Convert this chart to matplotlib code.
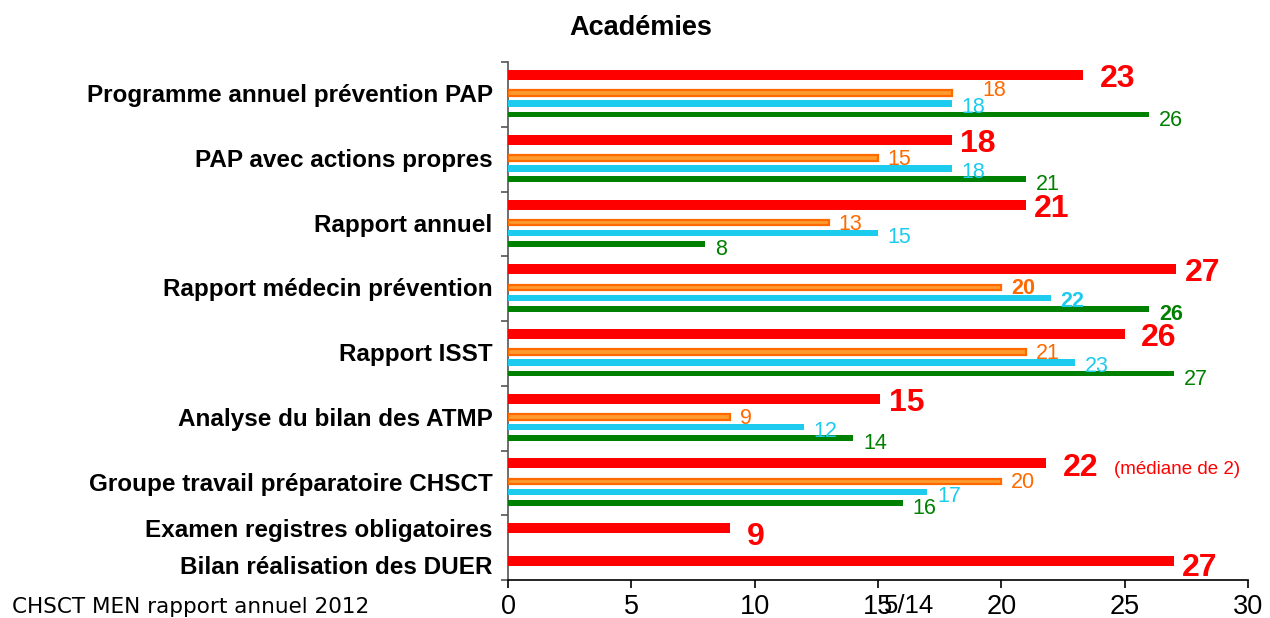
import matplotlib
matplotlib.use("Agg")
import matplotlib.pyplot as plt
import matplotlib.transforms as mtransforms

# ---------------- data ----------------
categories = [
    "Programme annuel prévention PAP",
    "PAP avec actions propres",
    "Rapport annuel",
    "Rapport médecin prévention",
    "Rapport ISST",
    "Analyse du bilan des ATMP",
    "Groupe travail préparatoire CHSCT",
    "Examen registres obligatoires",
    "Bilan réalisation des DUER",
]
red_values = [23.3, 18, 21, 27.1, 25, 15.1, 21.8, 9, 27]
red_labels = ["23", "18", "21", "27", "26", "15", "22", "9", "27"]
orange_values = [18, 15, 13, 20, 21, 9, 20]
cyan_values = [18, 18, 15, 22, 23, 12, 17]
green_values = [26, 21, 8, 26, 27, 14, 16]
bold_group = "Rapport médecin prévention"
x_ticks = [0, 5, 10, 15, 20, 25, 30]

title = "Académies"
footer = "CHSCT MEN rapport annuel 2012"
page = "5/14"
note = "(médiane de 2)"

# ---------------- style ----------------
RED = "#FF0000"
ORANGE_FACE = "#FF9A2E"
ORANGE_EDGE = "#FF6A00"
ORANGE_TXT = "#FF6A00"
CYAN = "#1CCBEE"
GREEN = "#008000"
FONT = "Liberation Sans"

fig = plt.figure(figsize=(12.70, 6.18), dpi=100)
ax = fig.add_axes([0.4, 0.0615, 0.5827, 0.838])

# layout: full groups occupy one unit each; last two categories share one unit
n_full = len(orange_values)
red_pos = [i + 0.20 for i in range(n_full)] + [n_full + 0.20, n_full + 0.70]
label_pos = [i + 0.52 for i in range(n_full)] + [n_full + 0.24, n_full + 0.80]
orange_pos = [i + 0.48 for i in range(n_full)]
cyan_pos = [i + 0.64 for i in range(n_full)]
green_pos = [i + 0.81 for i in range(n_full)]

ax.barh(red_pos, red_values, height=0.155, color=RED, zorder=3)
ax.barh(orange_pos, orange_values, height=0.085, color=ORANGE_FACE,
        edgecolor=ORANGE_EDGE, linewidth=1.6, zorder=3)
ax.barh(cyan_pos, cyan_values, height=0.10, color=CYAN, zorder=3)
ax.barh(green_pos, green_values, height=0.09, color=GREEN, zorder=3)

ax.set_xlim(0, 30)
ax.set_ylim(len(categories) - 1, 0)

# red value labels
for i, (v, lab, y) in enumerate(zip(red_values, red_labels, red_pos)):
    dx, dy = 6, -3
    if categories[i] in ("Programme annuel prévention PAP", "Rapport ISST",
                         "Groupe travail préparatoire CHSCT",
                         "Examen registres obligatoires"):
        dx = 12
    if categories[i] == "Examen registres obligatoires":
        dy = -6
    if categories[i] == "Bilan réalisation des DUER":
        dy = -5
    ax.annotate(lab, xy=(v, y), xytext=(dx, dy), textcoords="offset points",
                ha="left", va="center", color=RED, fontsize=23,
                fontweight="bold", family=FONT, zorder=4)
    if categories[i] == "Groupe travail préparatoire CHSCT":
        ax.annotate(note, xy=(v, y), xytext=(49, -4), textcoords="offset points",
                    ha="left", va="center", color=RED, fontsize=13.5,
                    family=FONT, zorder=4)

# small series labels
def small_labels(values, positions, color, dy_default, special=None):
    for i, (v, y) in enumerate(zip(values, positions)):
        weight = "bold" if categories[i] == bold_group else "normal"
        dx, dy = 7, dy_default
        if special and categories[i] in special:
            dx, dy = special[categories[i]]
        ax.annotate(str(v), xy=(v, y), xytext=(dx, dy),
                    textcoords="offset points", ha="left", va="center",
                    color=color, fontsize=15.5, fontweight=weight,
                    family=FONT, zorder=4)

small_labels(orange_values, orange_pos, ORANGE_TXT, -1,
             special={"Programme annuel prévention PAP": (22, 2)})
small_labels(cyan_values, cyan_pos, CYAN, -3)
small_labels(green_values, green_pos, GREEN, -4)

# category labels
blend = mtransforms.blended_transform_factory(ax.transAxes, ax.transData)
for cat, y in zip(categories, label_pos):
    ax.annotate(cat, xy=(0, y), xycoords=blend, xytext=(-11, 0),
                textcoords="offset points", ha="right", va="center",
                fontsize=17.5, fontweight="bold", family=FONT, color="black")

# axes styling
for s in ("top", "right"):
    ax.spines[s].set_visible(False)
ax.spines["left"].set_color("#555555")
ax.spines["left"].set_linewidth(1.2)
ax.spines["bottom"].set_color("black")
ax.spines["bottom"].set_linewidth(1.2)
ax.set_yticks(range(len(categories)))
ax.set_yticklabels([])
ax.tick_params(axis="y", direction="out", length=5, width=1.2, color="#555555")
ax.set_xticks(x_ticks)
ax.set_xticklabels([str(t) for t in x_ticks], fontsize=19.5, family=FONT)
ax.tick_params(axis="x", direction="out", length=6, width=1.2, pad=4)

fig.text(641 / 1270, 1 - 28 / 618, title, ha="center", va="center",
         fontsize=19.5, fontweight="bold", family=FONT)
fig.text(12 / 1270, 1 - 607 / 618, footer, ha="left", va="center",
         fontsize=15.5, family="DejaVu Sans")
fig.text(884 / 1270, 1 - 606 / 618, page, ha="left", va="center",
         fontsize=18.5, family=FONT)

fig.savefig("out.png", dpi=100)
